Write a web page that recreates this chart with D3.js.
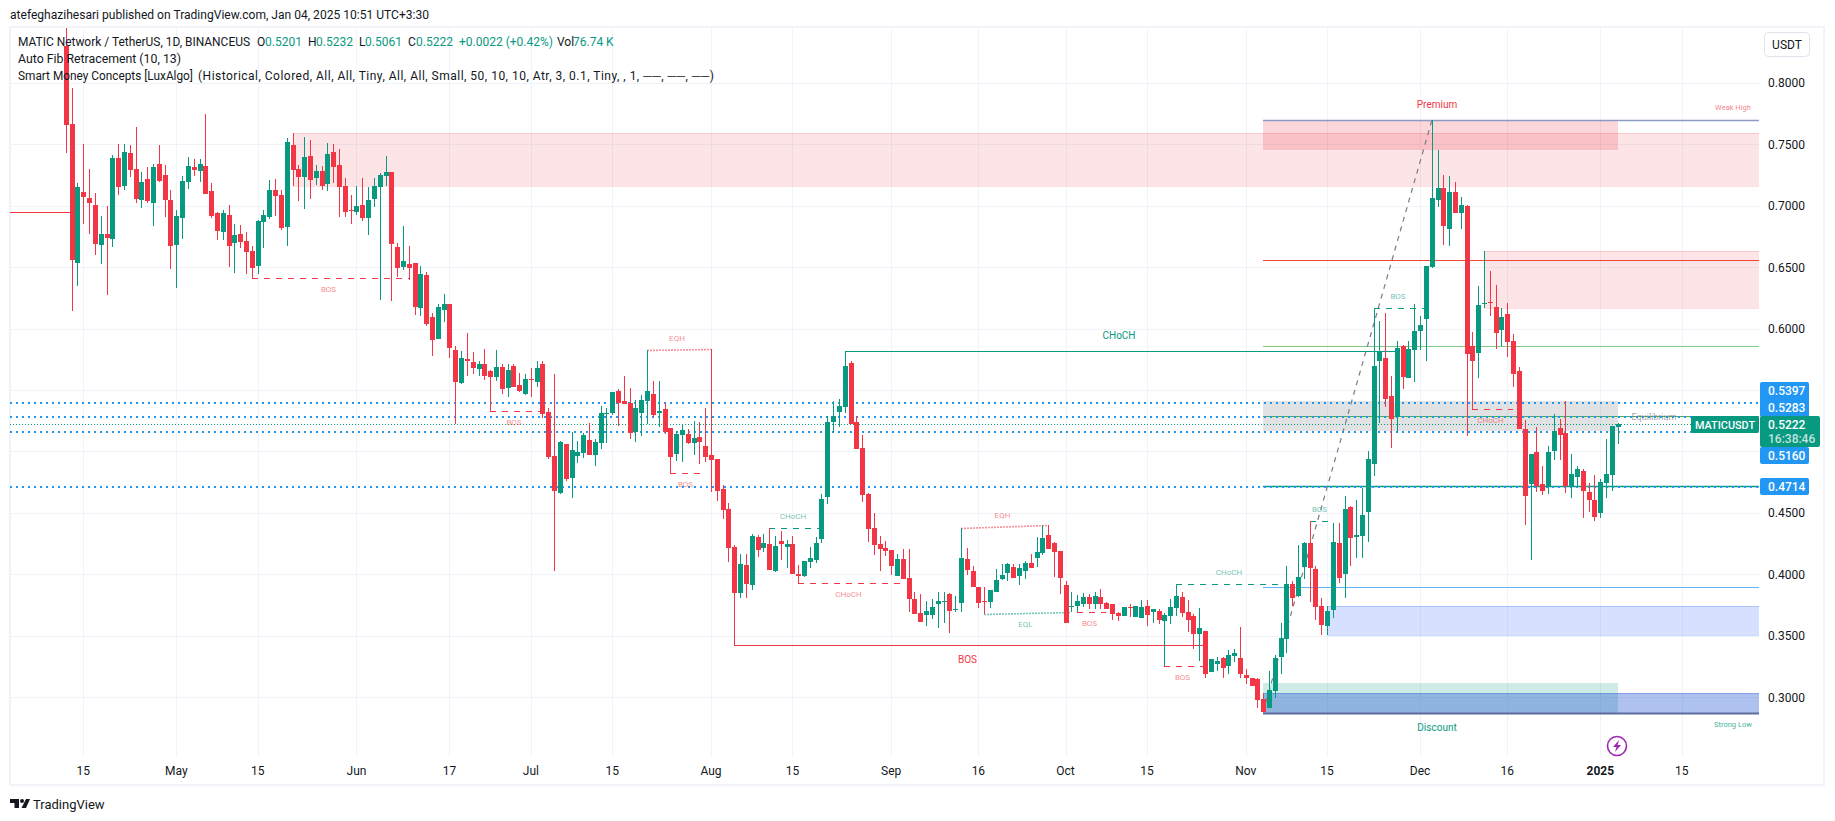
<!DOCTYPE html>
<html>
<head>
<meta charset="UTF-8">
<title>MATICUSDT</title>
<script src="https://cdnjs.cloudflare.com/ajax/libs/d3/7.8.5/d3.min.js"></script>
<style>
    html, body { margin: 0; background: #fff; }
    svg { display: block; }
    text { font-family: Roboto, "Liberation Sans", sans-serif; }
</style>
</head>
<body>
<div id="chart"></div>
<script>
    // daily candles, one per day starting at firstDay
    const firstDay = "2024-04-12";
    const opens = [
        .83,.7664,.6536,.7111,.7062,.7005,.6680,.6769,.6731,.7388,.7160,.7428,.7298,.7046,.7217,.7022,.7339,.7249,.7046,.6680,
        .6900,.7192,.7315,.7282,.7323,.7119,.6940,.6786,.6924,.6696,.6769,.6712,.6631,.6509,.6867,.6908,.7127,.7087,.6826,.7494,
        .7298,.7233,.7404,.7226,.7283,.7177,.7437,.7332,.7161,.6965,.6949,.7006,.6900,.7055,.7153,.7242,.7275,.6664,.6502,.6526,
        .6534,.6168,.6437,.6095,.5916,.6152,.6201,.5826,.5558,.5751,.5729,.5672,.5713,.5656,.5607,.5688,.5517,.5696,.5542,.5468,
        .5591,.5566,.5713,.5322,.4963,.4662,.5061,.4784,.4963,.4988,.5093,.4971,.5069,.5305,.5313,.5492,.5411,.5394,.5158,.5313,
        .5411,.5468,.5313,.5346,.5191,.4980,.5134,.5142,.5069,.5118,.5045,.4971,.4939,.4695,.4532,.4223,.3849,.4076,.3914,.4304,
        .4215,.4247,.4028,.4272,.4223,.4247,.4003,.3987,.4101,.4117,.4288,.4630,.5240,.5321,.5362,.5720,.5240,.5028,.4654,.4377,
        .4247,.4215,.4199,.3987,.4125,.3971,.3800,.3686,.3670,.3670,.3759,.3775,.3840,.3710,.3767,.4125,.4028,.3897,.3783,.3775,
        .3857,.3963,.4011,.4060,.3987,.4028,.4093,.4133,.4174,.4320,.4255,.4190,.3915,.3735,.3743,.3759,.3816,.3759,.3816,.3767,
        .3759,.3686,.3661,.3735,.3653,.3645,.3743,.3694,.3702,.3621,.3661,.3726,.3816,.3694,.3661,.3515,.3539,.3206,.3271,.3320,
        .3254,.3336,.3320,.3181,.3157,.3149,.2986,.2913,.3051,.3328,.3474,.3922,.3824,.4060,.4255,.4044,.3743,.3581,.3711,.4256,
        .4000,.4549,.4305,.4313,.4508,.4899,.5737,.5761,.5452,.5281,.5859,.5599,.5826,.5981,.6079,.6502,.7047,.7144,.6811,.7112,
        .6941,.6998,.5859,.5802,.6201,.6217,.6176,.5989,.6119,.5900,.5655,.5184,.4736,.4996,.4736,.4712,.5005,.5192,.5151,.4720,
        .4793,.4842,.4671,.4606,.4500,.4744,.4809,.5201
    ];
    const highs = [
        .85,.7957,.7184,.7502,.7298,.7103,.6916,.6997,.7412,.7502,.7502,.7494,.7640,.7274,.7315,.7339,.7494,.7331,.7127,.6965,
        .7241,.7396,.7380,.7380,.7746,.7184,.6948,.6965,.7005,.6851,.6843,.6786,.6672,.6883,.6965,.7209,.7217,.7127,.7550,.7591,
        .7331,.7559,.7534,.7332,.7323,.7511,.7502,.7462,.7226,.7088,.7161,.7226,.7153,.7226,.7267,.7405,.7275,.6697,.6835,.6673,
        .6534,.6510,.6461,.6127,.6201,.6282,.6201,.5859,.5818,.5965,.5810,.5737,.5835,.5660,.5827,.5713,.5713,.5713,.5639,.5631,
        .5680,.5737,.5737,.5355,.5630,.5085,.5061,.5158,.5085,.5150,.5232,.5102,.5370,.5354,.5484,.5508,.5614,.5516,.5419,.5459,
        .5826,.5573,.5573,.5394,.5191,.5167,.5224,.5183,.5248,.5240,.5354,.5834,.4939,.4727,.4581,.4239,.4166,.4166,.4329,.4321,
        .4329,.4378,.4312,.4353,.4280,.4312,.4076,.4109,.4223,.4304,.4654,.5289,.5411,.5427,.5815,.5736,.5289,.5134,.4662,.4499,
        .4312,.4272,.4199,.4166,.4207,.4207,.3857,.3840,.3783,.3800,.3857,.3857,.3849,.3824,.4375,.4215,.4068,.3897,.3897,.3873,
        .4044,.4085,.4093,.4085,.4085,.4109,.4166,.4304,.4402,.4402,.4264,.4190,.3944,.3856,.3832,.3848,.3840,.3856,.3881,.3775,
        .3759,.3694,.3735,.3759,.3743,.3791,.3791,.3718,.3718,.3686,.3800,.3922,.3856,.3791,.3678,.3726,.3539,.3311,.3328,.3328,
        .3385,.3393,.3572,.3230,.3157,.3157,.3035,.3214,.3344,.3604,.4068,.3946,.4239,.4265,.4434,.4069,.3806,.3743,.4416,.4419,
        .4638,.4557,.4606,.4704,.5005,.6165,.6062,.6127,.5615,.5900,.5867,.5900,.6201,.6103,.6510,.7698,.7454,.7250,.7242,.7193,
        .7071,.7006,.5973,.6347,.6632,.6469,.6355,.6168,.6209,.5957,.5688,.5257,.4980,.5200,.4883,.5045,.5306,.5265,.5411,.4980,
        .4883,.4858,.4744,.4809,.4777,.5102,.5208,.5232
    ];
    const lows = [
        .7431,.6146,.6349,.6851,.6769,.6599,.6525,.6273,.6664,.7087,.7127,.7233,.7022,.6981,.7022,.6834,.7192,.6908,.6485,.6330,
        .6729,.7136,.7241,.7192,.7095,.6900,.6721,.6721,.6501,.6452,.6655,.6444,.6409,.6444,.6655,.6891,.6916,.6802,.6672,.7160,
        .7038,.6973,.7054,.7169,.7128,.7120,.7185,.6909,.6909,.6852,.6925,.6876,.6762,.6990,.6233,.7161,.6225,.6420,.6477,.6396,
        .6111,.6103,.6022,.5778,.5916,.6054,.5761,.5224,.5550,.5615,.5631,.5615,.5582,.5327,.5574,.5468,.5444,.5525,.5485,.5460,
        .5444,.5525,.5273,.4940,.4030,.4654,.4760,.4622,.4906,.4947,.4971,.4882,.5020,.5069,.5297,.5207,.5386,.5102,.5077,.5126,
        .5224,.5281,.5199,.5142,.4825,.4923,.4914,.5061,.4971,.4898,.4914,.4670,.4597,.4451,.4101,.3423,.3808,.3808,.3873,.4142,
        .4182,.4036,.4019,.4117,.4052,.4003,.3928,.3979,.4052,.4093,.4255,.4573,.5150,.5199,.5313,.5224,.5020,.4589,.4264,.4158,
        .4028,.4150,.3995,.3987,.3963,.3694,.3678,.3613,.3580,.3637,.3564,.3605,.3523,.3694,.3694,.3995,.3897,.3727,.3675,.3727,
        .3857,.3954,.3946,.3971,.3914,.3963,.4052,.4060,.4158,.4207,.3979,.3840,.3602,.3691,.3691,.3735,.3718,.3718,.3718,.3718,
        .3629,.3621,.3661,.3653,.3653,.3645,.3580,.3604,.3596,.3254,.3596,.3661,.3653,.3531,.3393,.3295,.3157,.3206,.3214,.3157,
        .3189,.3287,.3157,.3108,.3092,.2913,.2880,.2913,.2994,.3189,.3360,.3743,.3816,.3962,.3775,.3629,.3507,.3507,.3646,.3930,
        .3808,.4069,.4134,.4134,.4264,.4801,.5232,.5363,.5029,.5151,.5509,.5599,.5566,.5826,.5737,.6494,.6990,.6681,.6673,.6941,
        .6811,.5127,.5346,.5599,.6168,.6103,.5834,.5859,.5769,.5525,.5184,.4403,.4118,.4671,.4647,.4655,.4931,.4931,.4663,.4622,
        .4712,.4460,.4508,.4435,.4460,.4622,.4679,.5061
    ];
    const closes = [
        .7659,.6558,.7152,.7070,.7022,.6691,.6769,.6737,.7388,.7152,.7437,.7290,.7054,.7192,.7038,.7315,.7201,.7046,.6672,.6916,
        .7201,.7323,.7290,.7339,.7095,.6916,.6794,.6940,.6672,.6761,.6704,.6623,.6493,.6875,.6924,.7127,.7079,.6818,.7518,.7290,
        .7233,.7396,.7209,.7283,.7161,.7421,.7315,.7153,.6949,.6957,.6998,.6900,.7047,.7161,.7250,.7275,.6689,.6494,.6551,.6494,
        .6176,.6445,.6038,.5908,.6176,.6201,.5843,.5566,.5761,.5737,.5680,.5713,.5615,.5607,.5688,.5509,.5664,.5525,.5493,.5591,
        .5583,.5680,.5306,.4956,.4679,.5077,.4776,.5012,.4996,.5134,.4971,.5077,.5313,.5313,.5484,.5394,.5386,.5150,.5354,.5419,
        .5492,.5297,.5329,.5158,.4955,.5142,.5175,.5069,.5110,.5077,.4955,.4931,.4678,.4524,.4215,.3849,.4085,.3922,.4312,.4198,
        .4255,.4036,.4231,.4247,.4247,.4003,.3987,.4109,.4133,.4255,.4613,.5240,.5289,.5370,.5695,.5224,.5020,.4646,.4369,.4239,
        .4207,.4190,.4068,.4125,.3963,.3800,.3678,.3613,.3702,.3735,.3783,.3783,.3702,.3718,.4133,.4036,.3897,.3767,.3775,.3873,
        .3954,.3995,.4085,.3971,.4052,.4093,.4052,.4182,.4296,.4207,.4182,.3971,.3602,.3743,.3783,.3816,.3759,.3824,.3759,.3718,
        .3678,.3661,.3735,.3726,.3743,.3735,.3669,.3718,.3629,.3669,.3735,.3824,.3686,.3629,.3515,.3564,.3189,.3311,.3295,.3238,
        .3344,.3360,.3189,.3157,.3092,.2978,.2880,.3059,.3320,.3482,.3922,.3808,.3976,.4255,.4055,.3735,.3589,.3703,.4264,.3971,
        .4533,.4297,.4321,.4484,.4939,.5696,.5818,.5428,.5265,.5843,.5607,.5835,.5981,.6030,.6510,.7063,.7144,.6835,.7112,.6941,
        .7006,.5794,.5737,.6192,.6209,.6209,.5965,.6095,.5891,.5631,.5184,.4639,.4980,.4720,.4679,.4996,.5167,.5135,.4720,.4817,
        .4858,.4679,.4606,.4468,.4752,.4817,.5208,.5222
    ];

    // axes
    const priceTicks = [0.80, 0.75, 0.70, 0.65, 0.60, 0.55, 0.50, 0.45, 0.40, 0.35, 0.30];
    const hiddenPriceTicks = [0.55, 0.50]; // covered by the price boxes
    const timeTicks = ["2024-04-15", "2024-05-01", "2024-05-15", "2024-06-01", "2024-06-17", "2024-07-01", "2024-07-15", "2024-08-01", "2024-08-15", "2024-09-01", "2024-09-16", "2024-10-01", "2024-10-15", "2024-11-01", "2024-11-15", "2024-12-01", "2024-12-16", "2025-01-01", "2025-01-15"];
    const timeLabels = ["15", "May", "15", "Jun", "17", "Jul", "15", "Aug", "15", "Sep", "16", "Oct", "15", "Nov", "15", "Dec", "16", "2025", "15"];

    // horizontal levels, and the boxes on the price scale
    const dottedLevels = [0.5397, 0.5283, 0.5160, 0.4714];
    const lastPrice = 0.5222;
    const oldLevel = 0.6949;
    const fibLevels = [0.7698, 0.6556, 0.5856, 0.5289, 0.4719, 0.3900, 0.2875];
    const fibSwing = [206, 235, 0.2880, 0.7698];
    const fibFromBar = 206;

    // from bar, to bar (null = to the scale), top price, bottom price
    const supplyZones = [[39, null, 0.7591, 0.7163], [244, null, 0.6632, 0.6170]];
    const demandZones = [[217, null, 0.3741, 0.3509]];
    const premiumZone = [206, 267, 0.7698, 0.7453];
    const equilibriumZone = [206, 267, 0.5413, 0.5169];
    const discountZone = [206, 267, 0.3116, 0.2875];
    const strongLowZone = [206, null, 0.3033, 0.2875];

    // market structure: label, direction, from bar, to bar, start price, end price, major
    const structures = [
        ["BOS", "bear", 32, 59, 0.6409, 0.6409, false],
        ["BOS", "bear", 73, 82, 0.5327, 0.5327, false],
        ["EQH", "bear", 100, 111, 0.5826, 0.5834, false],
        ["BOS", "bear", 104, 110, 0.4823, 0.4823, false],
        ["CHoCH", "bull", 121, 130, 0.4375, 0.4375, false],
        ["BOS", "bear", 115, 196, 0.3423, 0.3423, true],
        ["CHoCH", "bear", 126, 144, 0.3928, 0.3928, false],
        ["CHoCH", "bull", 134, 229, 0.5815, 0.5815, true],
        ["EQH", "bear", 154, 169, 0.4375, 0.4402, false],
        ["EQL", "bull", 158, 173, 0.3675, 0.3691, false],
        ["BOS", "bear", 174, 179, 0.3691, 0.3691, false],
        ["BOS", "bear", 189, 196, 0.3255, 0.3255, false],
        ["CHoCH", "bull", 191, 210, 0.3919, 0.3919, false],
        ["BOS", "bull", 214, 218, 0.4432, 0.4432, false],
        ["BOS", "bull", 225, 234, 0.6165, 0.6165, false],
        ["CHoCH", "bear", 242, 249, 0.5343, 0.5343, false]
    ];

    const width = 1835;
    const height = 821;
    const paneLeft = 10;
    const paneRight = 1759;
    const paneTop = 28;
    const paneBottom = 757;
    const green = "#089981";
    const red = "#f23645";
    const blue = "#2196f3";
    const textColor = "#131722";
    const gridColor = "#f0f3fa";

    const day0 = d3.utcParse("%Y-%m-%d")(firstDay);
    const parseDay = d3.utcParse("%Y-%m-%d");
    const x = d3.scaleUtc()
        .domain([parseDay("2024-04-15"), parseDay("2025-01-01")])
        .range([83.3, 1600.3]);
    const y = d3.scaleLinear().domain([0.3, 0.8]).range([697.3, 82.8]);
    const barX = i => Math.round(x(d3.utcDay.offset(day0, i)));
    const px = v => Math.round(y(v));

    const svg = d3.select("#chart").append("svg")
        .attr("width", width)
        .attr("height", height);

    // page text above the chart
    svg.append("text").attr("x", 10).attr("y", 19)
        .attr("font-size", 12).attr("fill", textColor)
        .attr("textLength", 419).attr("lengthAdjust", "spacingAndGlyphs")
        .text("atefeghazihesari published on TradingView.com, Jan 04, 2025 10:51 UTC+3:30");

    // frame
    svg.append("rect")
        .attr("x", 10).attr("y", 27)
        .attr("width", 1814).attr("height", 758)
        .attr("fill", "none").attr("stroke", gridColor).attr("stroke-width", 2);

    svg.append("clipPath").attr("id", "pane").append("rect")
        .attr("x", paneLeft).attr("y", paneTop)
        .attr("width", paneRight - paneLeft).attr("height", paneBottom - paneTop);

    const pane = svg.append("g").attr("clip-path", "url(#pane)");

    // grid
    pane.selectAll(".hgrid").data(priceTicks).enter().append("line")
        .attr("class", "hgrid")
        .attr("x1", paneLeft).attr("x2", paneRight)
        .attr("y1", d => px(d) + 0.5).attr("y2", d => px(d) + 0.5)
        .attr("stroke", gridColor);
    pane.selectAll(".vgrid").data(timeTicks).enter().append("line")
        .attr("class", "vgrid")
        .attr("x1", d => Math.round(x(parseDay(d))) + 0.5).attr("x2", d => Math.round(x(parseDay(d))) + 0.5)
        .attr("y1", paneTop).attr("y2", paneBottom)
        .attr("stroke", gridColor);

    // zones
    function zone(z, fill, opacity, stroke) {
        const left = barX(z[0]);
        const right = z[1] === null ? paneRight : barX(z[1]);
        pane.append("rect")
            .attr("x", left).attr("y", px(z[2]))
            .attr("width", right - left).attr("height", px(z[3]) - px(z[2]))
            .attr("fill", fill).attr("fill-opacity", opacity);
        if (stroke) {
            [z[2], z[3]].forEach(p => {
                pane.append("line")
                    .attr("x1", left).attr("x2", right)
                    .attr("y1", px(p) + 0.5).attr("y2", px(p) + 0.5)
                    .attr("stroke", stroke);
            });
        }
    }
    supplyZones.forEach(z => zone(z, red, 0.13, "rgba(242,54,69,0.16)"));
    demandZones.forEach(z => zone(z, "#2962ff", 0.19, "rgba(33,110,243,0.25)"));
    zone(premiumZone, red, 0.2);
    zone(equilibriumZone, "#787b86", 0.22);
    zone(discountZone, green, 0.2);
    zone(strongLowZone, "#2157d3", 0.36, "rgba(33,87,211,0.3)");

    // fib lines
    const fibColors = ["#8c9bc6", "#f44336", "#81c784", "#4caf50", "#089981", "#64b5f6", "#5f6b9c"];
    pane.selectAll(".fib").data(fibLevels).enter().append("line")
        .attr("class", "fib")
        .attr("x1", barX(fibFromBar)).attr("x2", paneRight)
        .attr("y1", d => px(d) + 0.5).attr("y2", d => px(d) + 0.5)
        .attr("stroke", (d, i) => fibColors[i])
        .attr("stroke-width", (d, i) => (i === 6 ? 2 : i === 0 || i === 4 ? 1.4 : 1.2));
    pane.append("line")
        .attr("x1", barX(fibSwing[0])).attr("x2", barX(fibSwing[1]))
        .attr("y1", y(fibSwing[2])).attr("y2", y(fibSwing[3]))
        .attr("stroke", "#787b86").attr("stroke-width", 1.2).attr("stroke-dasharray", "5 5");

    // the old red level on the left edge
    pane.append("line")
        .attr("x1", paneLeft).attr("x2", barX(1))
        .attr("y1", px(oldLevel) + 0.5).attr("y2", px(oldLevel) + 0.5)
        .attr("stroke", red);

    // blue dotted levels, last price line
    pane.selectAll(".dot").data(dottedLevels).enter().append("line")
        .attr("class", "dot")
        .attr("x1", paneLeft).attr("x2", paneRight)
        .attr("y1", d => px(d)).attr("y2", d => px(d))
        .attr("stroke", blue).attr("stroke-width", 2).attr("stroke-dasharray", "2 4");
    pane.append("line")
        .attr("x1", paneLeft).attr("x2", paneRight)
        .attr("y1", px(lastPrice) + 0.5).attr("y2", px(lastPrice) + 0.5)
        .attr("stroke", green).attr("stroke-dasharray", "1 2");

    // structure lines
    pane.selectAll(".structure").data(structures).enter().append("line")
        .attr("class", "structure")
        .attr("x1", d => barX(d[2])).attr("x2", d => barX(d[3]))
        .attr("y1", d => px(d[4]) + 0.5).attr("y2", d => px(d[5]) + 0.5)
        .attr("stroke", d => (d[1] === "bull" ? green : red))
        .attr("stroke-opacity", d => (d[0].startsWith("EQ") ? 0.55 : 1))
        .attr("stroke-width", d => (d[0].startsWith("EQ") ? 1.6 : d[6] ? 1.2 : 1))
        .attr("stroke-dasharray", d => (d[6] ? null : d[0].startsWith("EQ") ? "2 1" : "6 6"));

    // candles
    const bars = d3.range(opens.length);
    const candleColor = i => (closes[i] >= opens[i] ? green : red);
    const candles = pane.append("g").attr("shape-rendering", "crispEdges");
    candles.selectAll(".wick").data(bars).enter().append("rect")
        .attr("class", "wick")
        .attr("x", i => barX(i))
        .attr("width", 1)
        .attr("y", i => px(highs[i]))
        .attr("height", i => Math.max(1, px(lows[i]) - px(highs[i])))
        .attr("fill", candleColor);
    candles.selectAll(".body").data(bars).enter().append("rect")
        .attr("class", "body")
        .attr("x", i => barX(i) - 2)
        .attr("width", 5)
        .attr("y", i => px(Math.max(opens[i], closes[i])))
        .attr("height", i => Math.max(1, px(Math.min(opens[i], closes[i])) - px(Math.max(opens[i], closes[i]))))
        .attr("fill", candleColor);

    // structure labels, above highs and below lows
    const labelAbove = d => (d[1] === "bull" ? d[0] !== "EQL" : d[0] === "EQH");
    svg.selectAll(".slabel").data(structures).enter().append("text")
        .attr("class", "slabel")
        .attr("x", d => (barX(d[2]) + barX(d[3])) / 2 - 2)
        .attr("y", d => {
            const line = (px(d[4]) + px(d[5])) / 2;
            return labelAbove(d) ? line - (d[6] ? 12 : 9) : line + (d[6] ? 18 : 14);
        })
        .attr("text-anchor", "middle")
        .attr("font-size", d => (d[6] ? 10 : 8))
        .attr("fill", d => (d[1] === "bull" ? green : red))
        .attr("fill-opacity", d => (d[6] ? 1 : 0.6))
        .text(d => d[0]);

    // zone names
    const zoneLabel = (txt, tx, ty, size, color, op) => svg.append("text")
        .attr("x", tx).attr("y", ty).attr("text-anchor", "middle")
        .attr("font-size", size).attr("fill", color).attr("fill-opacity", op)
        .text(txt);
    zoneLabel("Premium", 1437, 108, 10, red, 1);
    zoneLabel("Discount", 1437, 731, 10, green, 1);
    zoneLabel("Weak High", 1733, 110, 7.5, red, 0.65);
    zoneLabel("Strong Low", 1733, 727, 7.5, green, 0.8);
    zoneLabel("Equilibrium", 1654, 420, 9, "#787b86", 0.7);

    // price scale
    svg.selectAll(".ptick").data(priceTicks.filter(p => !hiddenPriceTicks.includes(p))).enter().append("text")
        .attr("class", "ptick")
        .attr("x", 1768).attr("y", d => y(d) + 4.5)
        .attr("font-size", 12).attr("fill", textColor)
        .text(d => d.toFixed(4));

    // time scale
    svg.selectAll(".ttick").data(timeTicks).enter().append("text")
        .attr("class", "ttick")
        .attr("x", d => x(parseDay(d))).attr("y", 775)
        .attr("text-anchor", "middle")
        .attr("font-size", 12).attr("fill", textColor)
        .attr("font-weight", (d, i) => (timeLabels[i] === "2025" ? 700 : 400))
        .text((d, i) => timeLabels[i]);

    // price boxes, their labels are pushed apart so they don't collide
    function priceBox(top, bottom, boxRight, fill) {
        svg.append("rect")
            .attr("x", 1760).attr("y", top)
            .attr("width", boxRight - 1760).attr("height", bottom - top)
            .attr("rx", 2)
            .attr("fill", fill);
    }
    function boxText(txt, ty, opacity) {
        svg.append("text")
            .attr("x", 1768).attr("y", ty)
            .attr("font-size", 12).attr("font-weight", 500)
            .attr("fill", "#fff").attr("fill-opacity", opacity)
            .text(txt);
    }
    priceBox(382, 417, 1809, blue);
    priceBox(447, 464, 1809, blue);
    priceBox(478, 495, 1809, blue);
    priceBox(416, 447, 1820, green);
    svg.append("rect").attr("x", 1691).attr("y", 416).attr("width", 68).attr("height", 17).attr("rx", 2).attr("fill", green);
    svg.append("text").attr("x", 1695).attr("y", 429)
        .attr("font-size", 11.5).attr("font-weight", 500).attr("fill", "#fff")
        .attr("textLength", 60).attr("lengthAdjust", "spacingAndGlyphs")
        .text("MATICUSDT");
    [394.5, 412, 460, 491].forEach((ty, i) => boxText(dottedLevels[i].toFixed(4), ty, 1));
    boxText(lastPrice.toFixed(4), 429, 1);
    boxText("16:38:46", 443, 0.75);

    // currency button
    svg.append("rect")
        .attr("x", 1764.5).attr("y", 32.5).attr("width", 45).attr("height", 24).attr("rx", 4)
        .attr("fill", "#fff").attr("stroke", "#e0e3eb");
    svg.append("text").attr("x", 1787).attr("y", 49).attr("text-anchor", "middle")
        .attr("font-size", 12).attr("fill", textColor).text("USDT");

    // lightning badge
    const badge = svg.append("g").attr("transform", "translate(1617,746)");
    badge.append("circle").attr("r", 9.5).attr("fill", "#fff").attr("stroke", "#9c27b0").attr("stroke-width", 1.6);
    badge.append("path").attr("d", "M2,-6 L-4,1 L-0.5,1 L-2,6 L4,-1 L0.5,-1 Z").attr("fill", "#9c27b0");

    // legend
    const legend = svg.append("g").attr("font-size", 12).attr("fill", textColor);
    legend.append("text").attr("x", 18).attr("y", 46)
        .attr("textLength", 232).attr("lengthAdjust", "spacingAndGlyphs")
        .text("MATIC Network / TetherUS, 1D, BINANCEUS");
    [["O", 257], ["H", 308], ["L", 359], ["C", 408], ["Vol", 557]].forEach(d => {
        legend.append("text").attr("x", d[1]).attr("y", 46).text(d[0]);
    });
    [["0.5201", 265], ["0.5232", 316], ["0.5061", 365], ["0.5222", 416], ["+0.0022 (+0.42%)", 459], ["76.74 K", 573]].forEach(d => {
        legend.append("text").attr("x", d[1]).attr("y", 46).attr("fill", green).text(d[0]);
    });
    legend.append("text").attr("x", 18).attr("y", 63)
        .attr("textLength", 163).attr("lengthAdjust", "spacingAndGlyphs")
        .text("Auto Fib Retracement (10, 13)");
    legend.append("text").attr("x", 18).attr("y", 80)
        .attr("textLength", 175).attr("lengthAdjust", "spacingAndGlyphs")
        .text("Smart Money Concepts [LuxAlgo]");
    legend.append("text").attr("x", 198).attr("y", 80)
        .attr("textLength", 516).attr("lengthAdjust", "spacing")
        .text("(Historical, Colored, All, All, Tiny, All, All, Small, 50, 10, 10, Atr, 3, 0.1, Tiny, , 1, ──, ──, ──)");

    // footer logo
    const logo = svg.append("g").attr("fill", textColor);
    logo.append("path").attr("d", "M10,799 H19 V808 H14.5 V803 H10 Z");
    logo.append("circle").attr("cx", 22).attr("cy", 801).attr("r", 2);
    logo.append("path").attr("d", "M26,799 H30 L26,808 H21.5 Z");
    svg.append("text").attr("x", 33).attr("y", 809)
        .attr("font-size", 13).attr("fill", textColor).text("TradingView");
</script>
</body>
</html>
